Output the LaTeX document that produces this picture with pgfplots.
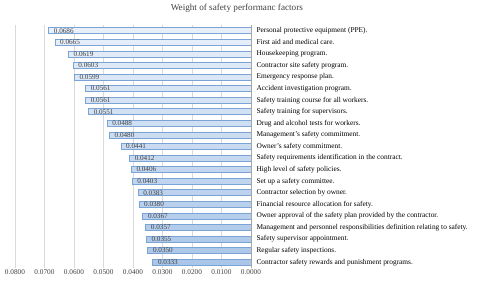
\documentclass[border=0pt]{standalone}
\usepackage{pgfplots}
\pgfplotsset{compat=1.18}
\usepackage{fontspec}
\setmainfont{Liberation Serif}
\definecolor{barline}{HTML}{7BA4D6}
\definecolor{bartop}{HTML}{E8F0FA}
\definecolor{barbot}{HTML}{A9C5E8}
\definecolor{gridc}{HTML}{D9D9D9}
\definecolor{tickc}{HTML}{404040}
\begin{document}
\begin{tikzpicture}
\begin{axis}[
  name=ax,
  scale only axis,
  width=236bp, height=243bp,
  x dir=reverse, y dir=reverse,
  xmin=0, xmax=0.08,
  ymin=-0.5, ymax=20.5,
  xtick={0.01,0.02,0.03,0.04,0.05,0.06,0.07,0.08},
  extra x ticks={0},
  extra x tick style={grid style={draw=gray!70, line width=0.6pt}},
  xmajorgrids, grid style={draw=gridc, line width=0.5pt},
  major tick length=0pt,
  axis line style={draw=none},
  /pgf/number format/.cd, fixed, fixed zerofill, precision=4, assume math mode=true,
  /pgfplots/.cd,
  scaled x ticks=false,
  xticklabel style={font=\fontsize{7.3}{8}\selectfont, text=tickc, yshift=1.5bp},
  ytick={0,...,20},
  yticklabel pos=right,
  yticklabel style={font=\fontsize{7.4}{8}\selectfont, text=black, anchor=west, xshift=2bp},
  yticklabels={
    {Personal protective equipment (PPE).},
    {First aid and medical care.},
    {Housekeeping program.},
    {Contractor site safety program.},
    {Emergency response plan.},
    {Accident investigation program.},
    {Safety training course for all workers.},
    {Safety training for supervisors.},
    {Drug and alcohol tests for workers.},
    {Management's safety commitment.},
    {Owner's safety commitment.},
    {Safety requirements identification in the contract.},
    {High level of safety policies.},
    {Set up a safety committee.},
    {Contractor selection by owner.},
    {Financial resource allocation for safety.},
    {Owner approval of the safety plan provided by the contractor.},
    {Management and personnel responsibilities definition relating to safety.},
    {Safety supervisor appointment.},
    {Regular safety inspections.},
    {Contractor safety rewards and punishment programs.}},
  title={Weight of safety performanc factors},
  title style={at={(0.94,1)}, anchor=south, yshift=3bp, font=\fontsize{9.2}{10}\selectfont, text=tickc},
  xbar, bar width=6bp,
  nodes near coords,
  every node near coord/.append style={anchor=west, inner xsep=0pt, xshift=5bp, font=\fontsize{7.2}{8}\selectfont, text=tickc},
]
\addplot[draw=barline, line width=0.6pt, top color=bartop, bottom color=barbot] coordinates {
(0.0686,0) (0.0665,1) (0.0619,2) (0.0603,3) (0.0599,4) (0.0561,5) (0.0561,6)
(0.0551,7) (0.0488,8) (0.0480,9) (0.0441,10) (0.0412,11) (0.0406,12) (0.0403,13)
(0.0383,14) (0.0380,15) (0.0367,16) (0.0357,17) (0.0355,18) (0.0350,19) (0.0333,20)
};
\end{axis}
\pgfresetboundingbox
\path[use as bounding box] ([shift={(-15bp,-12bp)}]ax.south west) rectangle ([shift={(229bp,25bp)}]ax.north east);
\end{tikzpicture}
\end{document}
